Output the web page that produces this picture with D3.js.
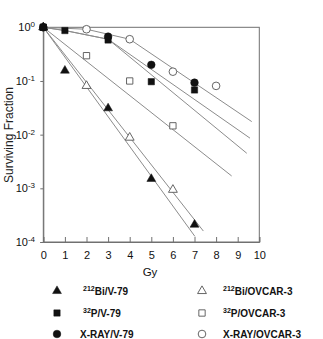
<!DOCTYPE html>
<html><head><meta charset="utf-8">
<script src="https://cdn.jsdelivr.net/npm/d3@7"></script>
<style>
html,body{margin:0;padding:0;background:#fff;}
svg{display:block;font-family:"Liberation Sans",Arial,sans-serif;}
</style></head>
<body><svg id="c" width="323" height="339"></svg>
<script>
// ---- data ----
const xTicks = [0,1,2,3,4,5,6,7,8,9,10];
const yTickExps = [0,-1,-2,-3,-4];

// measured points (dose in Gy, surviving fraction)
const biV79Dose = [0,1,3,5,7];
const biV79SF   = [1,0.156,0.031,0.0015,0.00021];
const biOvDose  = [0,2,4,6];
const biOvSF    = [1,0.081,0.0088,0.00094];
const pV79Dose  = [0,1,3,5,7];
const pV79SF    = [1,0.87,0.58,0.097,0.068];
const pOvDose   = [0,2,4,6];
const pOvSF     = [1,0.296,0.1,0.0146];
const xV79Dose  = [0,3,5,7];
const xV79SF    = [1,0.67,0.2,0.093];
const xOvDose   = [0,2,4,6,8];
const xOvSF     = [1,0.92,0.6,0.149,0.081];

// fitted curves (vertices)
const biV79FitDose = [0,7.02];
const biV79FitSF   = [1,0.000127];
const biOvFitDose  = [0,7.41];
const biOvFitSF    = [1,0.00016];
const pV79FitDose  = [0,1,3,9.42];
const pV79FitSF    = [1,0.87,0.6,0.0045];
const pOvFitDose   = [0,8.72];
const pOvFitSF     = [1,0.0017];
const xV79FitDose  = [0,1,3,9.57];
const xV79FitSF    = [1,0.87,0.6,0.0086];
const xOvFitDose   = [0,2,4,9.65];
const xOvFitSF     = [1,0.92,0.6,0.0175];

const legendLabels = [
  {sup:"212", txt:"Bi/V-79"}, {sup:"212", txt:"Bi/OVCAR-3"},
  {sup:"32",  txt:"P/V-79"},  {sup:"32",  txt:"P/OVCAR-3"},
  {sup:"",    txt:"X-RAY/V-79"}, {sup:"", txt:"X-RAY/OVCAR-3"}
];

// ---- drawing ----
const svg = d3.select("#c");
const L=43.3, R=259.3, T=27.3, B=242;
const x = d3.scaleLinear().domain([0,10]).range([L,R]);
const y = d3.scaleLog().domain([1e-4,1]).range([B,T]);
const zip = (a,b)=>a.map((d,i)=>[d,b[i]]);

const lineColor="#8c8c8c", frameColor="#707070";

// frame
svg.append("rect").attr("x",L).attr("y",T).attr("width",R-L).attr("height",B-T)
  .attr("fill","none").attr("stroke",frameColor).attr("stroke-width",1);

// x axis ticks (inward)
const gx = svg.append("g").attr("transform",`translate(0,${B})`)
  .call(d3.axisBottom(x).tickValues(xTicks).tickSize(-5).tickPadding(9).tickFormat(d3.format("d")));
gx.select(".domain").attr("stroke",frameColor);
gx.selectAll(".tick line").attr("stroke",frameColor);
gx.selectAll(".tick text").attr("font-size",11).attr("fill","#111")
  .attr("font-family","Liberation Sans, Arial, sans-serif");

// y axis ticks
const gy = svg.append("g").attr("transform",`translate(${L},0)`)
  .call(d3.axisLeft(y).tickValues(yTickExps.map(e=>Math.pow(10,e))).tickSize(3).tickPadding(3).tickFormat(()=>""));
gy.select(".domain").attr("stroke",frameColor);
gy.selectAll(".tick line").attr("stroke",frameColor);
gy.selectAll(".tick text").remove();
yTickExps.forEach(e=>{
  const t = svg.append("text").attr("x",35).attr("y",y(Math.pow(10,e))+4)
    .attr("text-anchor","end").attr("font-size",11).attr("fill","#111");
  t.append("tspan").text("10");
  t.append("tspan").attr("dy",-4).attr("font-size",8).text(String(e));
});

// axis titles
svg.append("text").attr("x",150).attr("y",276).attr("text-anchor","middle")
  .attr("font-size",11.5).attr("fill","#111").text("Gy");
svg.append("text").attr("transform","translate(13,135) rotate(-90)")
  .attr("text-anchor","middle").attr("font-size",12).attr("fill","#222").text("Surviving Fraction");

// fitted lines
const line = d3.line().x(d=>x(d[0])).y(d=>y(d[1]));
[[biV79FitDose,biV79FitSF],[biOvFitDose,biOvFitSF],[pV79FitDose,pV79FitSF],
 [pOvFitDose,pOvFitSF],[xV79FitDose,xV79FitSF],[xOvFitDose,xOvFitSF]].forEach(([a,b])=>{
  svg.append("path").datum(zip(a,b)).attr("d",line)
    .attr("fill","none").attr("stroke",lineColor).attr("stroke-width",1);
});

// marker symbols
const sym = {
  tri: d3.symbol().type(d3.symbolTriangle).size(34),
  sq:  d3.symbol().type(d3.symbolSquare).size(40),
  ci:  d3.symbol().type(d3.symbolCircle).size(46)
};
const filledColor="#111", openStroke="#555";
function drawPts(dose, sf, shape, filled){
  svg.append("g").selectAll("path").data(zip(dose,sf)).join("path")
    .attr("transform",d=>`translate(${x(d[0])},${y(d[1])})`)
    .attr("d",sym[shape]())
    .attr("fill",filled?filledColor:"#fff")
    .attr("stroke",filled?filledColor:openStroke)
    .attr("stroke-width",filled?0.5:0.9);
}
drawPts(xOvDose,xOvSF,"ci",false);
drawPts(pOvDose,pOvSF,"sq",false);
drawPts(biOvDose,biOvSF,"tri",false);
drawPts(pV79Dose,pV79SF,"sq",true);
drawPts(xV79Dose,xV79SF,"ci",true);
drawPts(biV79Dose,biV79SF,"tri",true);

// legend
const legShapes = [["tri",true],["tri",false],["sq",true],["sq",false],["ci",true],["ci",false]];
const rowY = [291,313,334];
legendLabels.forEach((lab,i)=>{
  const col = i%2, row = Math.floor(i/2);
  const sx = col? 202 : 57;
  const tx = col? 223 : (lab.sup? 83 : 80);
  const [shape,filled] = legShapes[i];
  svg.append("path").attr("transform",`translate(${sx},${rowY[row]})`)
    .attr("d",sym[shape]())
    .attr("fill",filled?filledColor:"#fff")
    .attr("stroke",filled?filledColor:openStroke).attr("stroke-width",filled?0.5:0.9);
  const t = svg.append("text").attr("x",tx).attr("y",rowY[row]+4)
    .attr("font-size",10).attr("font-weight","bold").attr("fill","#111");
  if(lab.sup){
    t.append("tspan").attr("font-size",7).attr("dy",-4).text(lab.sup);
    t.append("tspan").attr("dy",4).text(lab.txt);
  } else {
    t.append("tspan").text(lab.txt);
  }
});
</script></body></html>
